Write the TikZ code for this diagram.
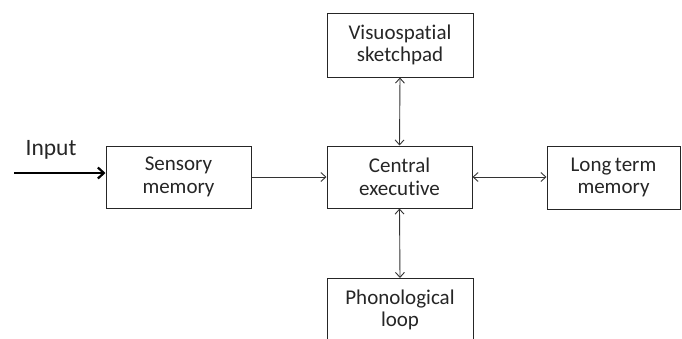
\documentclass[tikz,border=0pt]{standalone}
\usepackage{fontspec}
\setmainfont[Ligatures=NoCommon]{Carlito}
\usetikzlibrary{arrows.meta}
\begin{document}
\begin{tikzpicture}[x=1pt,y=-1pt,
  box/.style={draw=black!85,line width=1pt,fill=white,inner sep=0pt,align=center,
    font=\fontsize{21}{22.5}\selectfont,text=black!85},
  conn/.style={draw=black!80,line width=0.9pt},
  tip/.style={-{Straight Barb[length=5pt,width=9pt]}},
  dtip/.style={{Straight Barb[length=5pt,width=9pt]}-{Straight Barb[length=5pt,width=9pt]}}]
\useasboundingbox (0,0) rectangle (682,338);
\clip (0,0) rectangle (682,338);
\node[box,minimum width=145pt,minimum height=62pt] (sens) at (178.5,177) {Sensory\\memory};
\node[box,minimum width=145pt,minimum height=62pt] (cent) at (399.5,177) {Central\\executive};
\node[box,minimum width=146pt,minimum height=64pt] (visu) at (400,45) {Visuospatial\\sketchpad};
\node[box,minimum width=133pt,minimum height=63pt] (ltm) at (613.5,177.5) {Long\,term\\memory};
\node[box,minimum width=146pt,minimum height=80pt,anchor=north] (phon) at (400,278) {};
\node[font=\fontsize{21}{22.5}\selectfont,text=black!85,align=center,inner sep=0pt] (phonlbl) at (400,310) {Phonological\\loop};
\coordinate (in) at (14,173);
\node[font=\fontsize{23.5}{25}\selectfont,text=black!85,inner sep=0pt] (inlbl) at (51,150) {Input};
\draw[draw=black,line width=2.2pt,-{Straight Barb[length=6pt,width=11pt]}] (in) -- (sens.west |- in);
\draw[conn,tip] (sens.east |- 0,177) -- (cent.west |- 0,177);
\draw[conn,dtip] (cent.north) -- (visu.south);
\draw[conn,dtip] (cent.south) -- (phon.north);
\draw[conn,dtip] (cent.east) -- (ltm.west |- cent.east);
\end{tikzpicture}
\end{document}
